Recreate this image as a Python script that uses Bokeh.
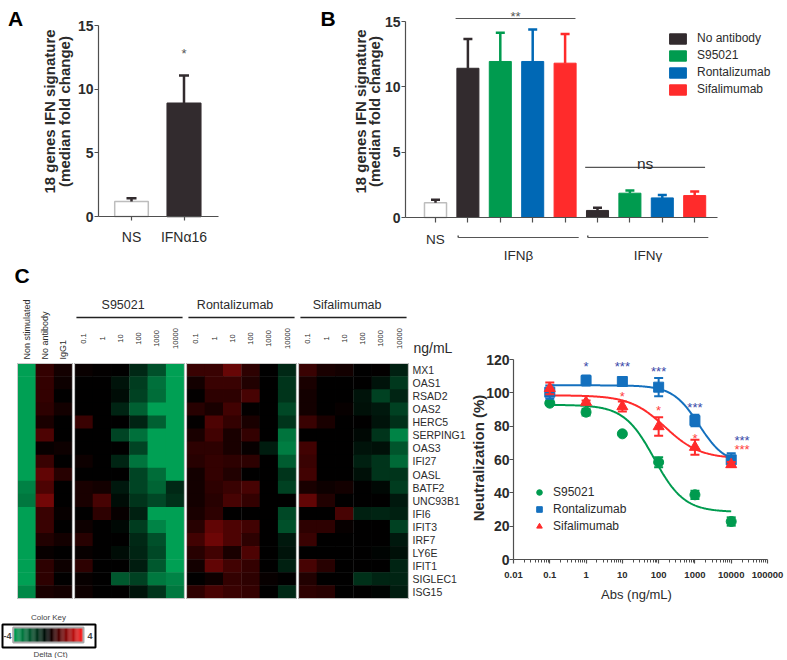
import numpy as np
from bokeh.plotting import figure
from bokeh.models import (Range1d, FixedTicker, Legend, LegendItem,
                          LinearColorMapper, CustomJSTickFormatter, ColumnDataSource)
from bokeh.layouts import row, column
from bokeh.embed import file_html
from bokeh.resources import INLINE
from bokeh.core.properties import value

# ------------------------------------------------------------------ data
a_categories = ["NS", "IFNα16"]
a_values = [1.18, 8.90]
a_err_top = [1.44, 11.08]
a_sig = ["", "*"]

b_ns_label = "NS"
b_ns_value = [1.12]
b_ns_err_top = [1.35]
treatments = ["No antibody", "S95021", "Rontalizumab", "Sifalimumab"]
ifnb_values = [11.42, 11.94, 11.94, 11.81]
ifnb_err_top = [13.67, 14.14, 14.38, 14.05]
ifng_values = [0.54, 1.86, 1.50, 1.68]
ifng_err_top = [0.74, 2.07, 1.73, 1.99]
b_groups = ["IFNβ", "IFNγ"]
b_group_sig = ["**", "ns"]
b_sig_line_y = [15.23, 3.83]

genes = ["MX1", "OAS1", "RSAD2", "OAS2", "HERC5", "SERPING1", "OAS3", "IFI27",
         "OASL", "BATF2", "UNC93B1", "IFI6", "IFIT3", "IRF7", "LY6E", "IFIT1",
         "SIGLEC1", "ISG15"]
control_columns = ["Non stimulated", "No antibody", "IgG1"]
antibodies = ["S95021", "Rontalizumab", "Sifalimumab"]
doses = ["0.1", "1", "10", "100", "1000", "10000"]

heat_controls = [
    [-4.0, 0.8, 0.3], [-4.0, 0.8, 0.2], [-4.0, 0.8, 0.0], [-4.0, 0.7, 0.3],
    [-4.0, 0.4, 0.0], [-4.0, 1.2, 0.0], [-4.0, 0.1, 0.2], [-4.0, 0.9, 0.0],
    [-4.0, 1.5, 0.6], [-3.2, 1.2, 0.0], [-3.0, 1.8, 0.0], [-4.0, 0.9, 0.1],
    [-4.0, 0.9, 0.0], [-4.0, 0.5, 0.3], [-4.0, 0.1, 0.0], [-4.0, 0.7, 0.2],
    [-4.0, 0.7, 0.0], [-3.4, 0.4, 0.3]]
heat_s95021 = [
    [0.15, 0.05, 0.0, -1.0, -2.0, -4.0], [0.0, 0.0, -0.5, -1.5, -2.8, -4.0],
    [0.0, 0.0, -0.3, -1.6, -2.7, -4.0], [0.0, 0.0, -0.9, -2.4, -4.0, -4.0],
    [0.9, 0.0, 0.0, -0.9, -2.4, -4.0], [0.0, 0.0, -1.7, -2.8, -4.0, -4.0],
    [0.0, 0.0, 0.0, -1.7, -4.0, -4.0], [0.2, 0.0, -0.9, -2.9, -4.0, -4.0],
    [0.0, 0.0, 0.0, -1.7, -2.7, -4.0], [0.4, 0.3, -0.6, -1.7, -2.5, -1.0],
    [0.4, 1.1, -0.3, -1.3, -1.8, -1.2], [0.0, 0.7, 0.1, -0.8, -4.0, -4.0],
    [0.2, 0.0, -0.2, -1.5, -3.3, -4.0], [0.6, 0.0, 0.0, -1.0, -2.0, -4.0],
    [0.1, 0.0, -0.3, -0.9, -1.8, -4.0], [0.7, 0.0, 0.0, -0.7, -2.2, -4.0],
    [0.1, 0.0, -2.2, -1.6, -3.0, -3.3], [0.2, 0.0, 0.0, -0.5, -1.3, -3.0]]
heat_rontalizumab = [
    [0.9, 0.9, 1.6, 0.7, 0.0, -1.0], [0.3, 0.9, 0.9, 0.5, 0.0, -1.3],
    [0.05, 0.7, 0.7, 1.1, 0.0, -1.3], [0.6, 0.4, 1.0, 0.05, 0.0, -1.8],
    [0.05, 1.2, 0.8, 0.4, 0.0, -1.3], [0.4, 1.0, 0.4, 0.8, 0.0, -2.9],
    [0.7, 0.7, 0.4, 0.1, -0.7, -3.1], [0.6, 0.8, 0.7, 0.7, 0.0, -2.3],
    [0.3, 0.8, 0.5, 0.0, 0.0, -1.3], [0.3, 0.7, 0.9, 1.1, 0.0, -1.6],
    [0.3, 0.6, 1.1, 0.8, 0.0, 0.0], [0.4, 0.7, 0.0, 0.0, 0.0, -1.8],
    [0.6, 1.5, 1.2, 1.0, 0.0, -2.0], [1.0, 1.7, 1.2, 0.7, 0.0, -0.6],
    [0.6, 1.0, 0.4, 1.2, 0.0, -0.5], [0.3, 1.5, 1.0, 0.8, 0.0, -0.8],
    [0.0, 0.2, 0.8, 0.7, 0.1, 0.0], [0.7, 1.1, 0.9, 0.8, 0.0, -1.0]]
heat_sifalimumab = [
    [0.9, 0.4, 0.3, 0.0, 0.05, -0.8], [0.4, 0.0, 0.0, 0.0, -0.5, -1.4],
    [0.3, 0.0, 0.0, -0.5, -1.6, -0.9], [0.3, 0.0, 0.1, -0.4, -0.6, -1.6],
    [0.9, 0.4, 0.0, 0.0, -0.5, -1.2], [0.0, 0.0, 0.0, -0.2, -1.3, -3.3],
    [1.0, 0.0, 0.0, -0.5, -0.4, -2.1], [0.9, 0.0, 0.0, -0.8, -1.3, -2.6],
    [1.0, 0.0, 0.0, -0.4, -1.3, -1.3], [0.4, 0.2, 0.3, 0.0, -0.2, -1.5],
    [1.5, 0.5, 0.0, 0.0, 0.0, -0.6], [0.0, 0.0, 1.1, -0.8, -0.9, -0.8],
    [0.7, 0.7, 0.1, 0.0, 0.0, -1.6], [0.9, 0.0, 0.0, 0.0, 0.0, -0.6],
    [0.0, 0.0, 0.0, 0.0, -0.1, -0.4], [1.1, 0.6, 0.0, 0.0, 0.0, -0.9],
    [0.5, 0.0, 0.0, -1.2, -0.9, -0.9], [0.7, 0.6, 0.0, 0.0, -0.1, -0.7]]

conc = [0.1, 1, 10, 100, 1000, 10000]
neut_s95021 = [93.8, 88.4, 75.4, 58.4, 38.8, 22.8]
err_s95021 = [1.0, 2.0, 0.0, 3.0, 2.5, 2.5]
neut_rontalizumab = [100.4, 107.4, 106.8, 103.4, 83.4, 59.8]
err_rontalizumab = [4.0, 3.0, 2.0, 5.5, 3.5, 4.0]
neut_sifalimumab = [102.7, 94.4, 91.8, 79.8, 67.4, 57.0]
err_sifalimumab = [3.5, 1.0, 3.0, 5.5, 4.5, 1.5]
# four-parameter logistic fits: top, bottom, EC50, Hill slope
fit_s95021 = (92.8, 28.5, 75.0, 1.05)
fit_rontalizumab = (104.5, 57.0, 1300.0, 1.2)
fit_sifalimumab = (98.5, 60.5, 150.0, 0.9)
star_x_blue = [1, 10, 100, 1000, 19800]
star_y_blue = [117.4, 117.4, 114.8, 93.0, 73.0]
star_t_blue = ["*", "***", "***", "***", "***"]
star_x_red = [10, 100, 1000, 19800]
star_y_red = [99.8, 91.0, 74.4, 68.0]
star_t_red = ["*", "*", "*", "***"]

# ------------------------------------------------------------------ style
SANS = "Liberation Sans"
TXT = "#2b2b2b"
AXC = "#4f4f4f"
DARK = "#322b2e"
GREEN = "#009b4f"
BLUE = "#0068b5"
RED = "#ff2b2b"
NS_LINE = "#bdbdbd"
BAR_COLORS = [DARK, GREEN, BLUE, RED]


def lin(p0, v0, p1, v1):
    """map a page pixel position to a data value (linear)"""
    return lambda p: v0 + (p - p0) * (v1 - v0) / (p1 - p0)


def new_fig(w, h, xr, yr, **kw):
    p = figure(width=w, height=h, x_range=xr, y_range=yr, output_backend="svg",
               toolbar_location=None, min_border_left=0, min_border_right=0,
               min_border_top=0, min_border_bottom=0, **kw)
    p.outline_line_color = None
    p.xgrid.visible = False
    p.ygrid.visible = False
    p.background_fill_color = "white"
    p.border_fill_color = "white"
    return p


def style_axis(ax, size, bold, tick_out=4):
    ax.axis_line_color = AXC
    ax.axis_line_width = 1.2
    ax.major_tick_line_color = AXC
    ax.major_tick_line_width = 1.2
    ax.major_tick_out = tick_out
    ax.major_tick_in = 0
    ax.minor_tick_line_color = None
    ax.major_label_text_font = SANS
    ax.major_label_text_font_size = f"{size}px"
    ax.major_label_text_font_style = "bold" if bold else "normal"
    ax.major_label_text_color = TXT


def txt(p, x, y, text, size, bold=False, color=TXT, angle=0.0, align="center",
        baseline="middle", y_offset=0):
    p.text(x=x, y=y, text=text, angle=angle, text_align=align, text_baseline=baseline,
           text_font=value(SANS), text_font_size=f"{size}px",
           text_font_style="bold" if bold else "normal", text_color=color, y_offset=y_offset)


def errbars(p, x, y0, y1, color, width=2.5, cap=10):
    p.segment(x0=x, y0=y0, x1=x, y1=y1, line_color=color, line_width=width)
    p.scatter(x=x, y=y1, marker="dash", size=cap, line_color=color, line_width=width)


ROW1_H = 262
ROW2_Y, ROW2_H = 262, 396

# ------------------------------------------------------------------ panel A
ax_ = lin(131, 0, 183.5, 1)
ay_ = lin(216, 0, 25, 15)
pA = new_fig(300, ROW1_H, Range1d(ax_(0), ax_(300)), Range1d(ay_(ROW1_H), ay_(0)))
xa = list(range(len(a_categories)))
pA.vbar(x=xa, top=a_values, width=0.64, bottom=0, fill_color=["white", DARK],
        line_color=[NS_LINE, DARK], line_width=1.5)
errbars(pA, xa, a_values, a_err_top, DARK)
txt(pA, xa, a_err_top, a_sig, 13, color="#555555", baseline="alphabetic", y_offset=-22)
pA.xaxis.fixed_location = 0
pA.xaxis.bounds = (ax_(98), ax_(218))
pA.xaxis.ticker = FixedTicker(ticks=xa)
pA.xaxis.major_label_overrides = {i: c for i, c in enumerate(a_categories)}
style_axis(pA.xaxis, 14, False)
pA.xaxis.major_label_standoff = 8
pA.yaxis.fixed_location = ax_(98)
pA.yaxis.bounds = (0, 15)
pA.yaxis.ticker = FixedTicker(ticks=[0, 5, 10, 15])
style_axis(pA.yaxis, 14, True)
pA.yaxis.major_label_standoff = 1
txt(pA, [ax_(15)], [ay_(18)], ["A"], 21, bold=True, color="black")
txt(pA, [ax_(49), ax_(63.5)], [ay_(111)] * 2, ["18 genes IFN signature", "(median fold change)"],
    15, bold=True, angle=np.pi / 2)

# ------------------------------------------------------------------ panel B
B_X0, B_W = 300, 485
bx_ = lin(435, 0, 467.4, 1)
by_ = lin(217, 0, 21, 15)
pB = new_fig(B_W, ROW1_H, Range1d(bx_(B_X0), bx_(B_X0 + B_W)), Range1d(by_(ROW1_H), by_(0)))
xb = [1 + i for i in range(len(treatments))]
xg = [1 + len(treatments) + i for i in range(len(treatments))]
pB.vbar(x=[0], top=b_ns_value, width=0.68, fill_color="white", line_color=NS_LINE, line_width=1.5)
errbars(pB, [0], b_ns_value, b_ns_err_top, DARK, cap=9)
bar_renderers = []
for i, t in enumerate(treatments):
    r = pB.vbar(x=[xb[i], xg[i]], top=[ifnb_values[i], ifng_values[i]], width=0.68,
                fill_color=BAR_COLORS[i], line_color=BAR_COLORS[i], line_width=1)
    bar_renderers.append(r)
    errbars(pB, [xb[i], xg[i]], [ifnb_values[i], ifng_values[i]],
            [ifnb_err_top[i], ifng_err_top[i]], BAR_COLORS[i], cap=9)

groups_x = [xb, xg]
sig_x0 = [min(g) - 0.38 for g in groups_x]
sig_x1 = [max(g) + 0.32 for g in groups_x]
pB.segment(x0=sig_x0, y0=b_sig_line_y, x1=sig_x1, y1=b_sig_line_y, line_color="#555555", line_width=1.2)
sig_cx = [(a + b) / 2 for a, b in zip(sig_x0, sig_x1)]
txt(pB, [sig_cx[0]], [b_sig_line_y[0]], [b_group_sig[0]], 13, color="#555555",
    baseline="alphabetic", y_offset=-2)
txt(pB, [sig_cx[1]], [b_sig_line_y[1]], [b_group_sig[1]], 15.5, baseline="alphabetic", y_offset=-4)

br_y = -1.53
br_x0 = [min(g) - 0.3 for g in groups_x]
br_x1 = [max(g) + 0.42 for g in groups_x]
pB.segment(x0=br_x0, y0=[br_y] * 2, x1=br_x1, y1=[br_y] * 2, line_color="#555555", line_width=1.2)
pB.segment(x0=br_x0, y0=[br_y] * 2, x1=br_x0, y1=[br_y + 0.15] * 2, line_color="#555555", line_width=1.5)
txt(pB, [(a + b) / 2 for a, b in zip(br_x0, br_x1)], [-2.91] * 2, b_groups, 13.5)

pB.xaxis.fixed_location = 0
pB.xaxis.bounds = (bx_(405), bx_(717))
pB.xaxis.ticker = FixedTicker(ticks=[0] + xb + xg)
pB.xaxis.major_label_overrides = {0: b_ns_label, **{k: "" for k in xb + xg}}
style_axis(pB.xaxis, 13.5, False, tick_out=5)
pB.xaxis.major_label_standoff = 9
pB.yaxis.fixed_location = bx_(405)
pB.yaxis.bounds = (0, 15)
pB.yaxis.ticker = FixedTicker(ticks=[0, 5, 10, 15])
style_axis(pB.yaxis, 14, True)
pB.yaxis.major_label_standoff = 1
txt(pB, [bx_(327.5)], [by_(18)], ["B"], 21, bold=True, color="black")
txt(pB, [bx_(360), bx_(373.5)], [by_(111)] * 2, ["18 genes IFN signature", "(median fold change)"],
    15, bold=True, angle=np.pi / 2)

legB = Legend(items=[LegendItem(label=t, renderers=[r]) for t, r in zip(treatments, bar_renderers)],
              location=(667 - B_X0, ROW1_H - 96), orientation="vertical", glyph_width=21,
              glyph_height=13, spacing=3, label_standoff=9, padding=0, margin=0,
              border_line_color=None, background_fill_alpha=0, label_text_font=SANS,
              label_text_font_size="12px", label_height=13, label_text_color=TXT)
pB.add_layout(legB)

# ------------------------------------------------------------------ panel C (heatmap)
HW = 468
hx = lin(17, 0, 35.3, 1)
hy = lin(363, 0, 376.06, 1)


def hpal(n=256):
    out = []
    for i in range(n):
        v = -1 + 2 * i / (n - 1)
        if v < 0:
            t = -v
            r, g, b = 0, 160 * t, 84 * t
        else:
            t = v
            r, g, b = 255 * t, 34 * t * t, 34 * t * t
        out.append("#%02x%02x%02x" % (round(r), round(g), round(b)))
    return out


mapper = LinearColorMapper(palette=hpal(), low=-4, high=4)

pC = new_fig(HW, ROW2_H, Range1d(hx(0), hx(HW)), Range1d(hy(ROW2_Y + ROW2_H), hy(ROW2_Y)),
             x_axis_location=None, y_axis_location=None)

GAP = 0.12
blocks = [heat_controls, heat_s95021, heat_rontalizumab, heat_sifalimumab]
starts = []
s = 0.0
for b in blocks:
    starts.append(s)
    s += len(b[0]) + GAP
cx, cy, cv = [], [], []
for b, st in zip(blocks, starts):
    for r_i, rowvals in enumerate(b):
        for c_i, v in enumerate(rowvals):
            cx.append(st + c_i + 0.5)
            cy.append(r_i + 0.5)
            cv.append(v)
pC.rect(x="x", y="y", width=1.02, height=1.04, source=ColumnDataSource(dict(x=cx, y=cy, v=cv)),
        fill_color={"field": "v", "transform": mapper}, line_color=None)
nrows = len(genes)
pC.rect(x=[st + len(b[0]) / 2 for b, st in zip(blocks, starts)], y=[nrows / 2] * 4,
        width=[len(b[0]) for b in blocks], height=[nrows] * 4, fill_color=None,
        line_color="#c9c9c9", line_width=1)

txt(pC, [hx(412)] * nrows, [i + 0.5 for i in range(nrows)], genes, 10.5, align="left")
txt(pC, [j + 0.5 for j in range(len(control_columns))], [hy(359)] * 3, control_columns, 9,
    angle=np.pi / 2, align="left")
dose_x, dose_t = [], []
for st in starts[1:]:
    for d_i, d in enumerate(doses):
        dose_x.append(st + d_i + 0.5)
        dose_t.append(d)
txt(pC, dose_x, [hy(338)] * len(dose_x), dose_t, 7.5, angle=np.pi / 2)
ab_starts = starts[1:]
pC.segment(x0=[st + 0.1 for st in ab_starts], y0=[hy(317)] * 3,
           x1=[st + len(doses) - 0.1 for st in ab_starts], y1=[hy(317)] * 3,
           line_color="#222222", line_width=1.5)
txt(pC, [st + len(doses) / 2 - 0.35 for st in ab_starts], [hy(304)] * 3, antibodies, 12.5)
txt(pC, [hx(413)], [hy(347)], ["ng/mL"], 14, align="left")
txt(pC, [hx(21.5)], [hy(263)], ["C"], 21, bold=True, color="black", baseline="top")

# colour key
ramp = np.linspace(-4, 4, 80)
k0, k1 = hx(12.7), hx(83)
edges = np.linspace(k0, k1, len(ramp) + 1)
ramp_src = ColumnDataSource(dict(v=ramp, left=edges[:-1], right=edges[1:] + 0.01,
                                 top=[hy(627)] * len(ramp), bottom=[hy(642)] * len(ramp)))
pC.quad(left="left", right="right", top="top", bottom="bottom",
        fill_color={"field": "v", "transform": mapper}, line_color=None, source=ramp_src)
pC.quad(left=[k0], right=[k1], top=[hy(627)], bottom=[hy(642)], fill_color=None,
        line_color="#a9a9a9", line_width=2)
pC.quad(left=[hx(2)], right=[hx(95)], top=[hy(624)], bottom=[hy(647)], fill_color=None,
        line_color="black", line_width=2)
txt(pC, [hx(7), hx(89.5)], [hy(635)] * 2, ["-4", "4"], 9, bold=True, color="#444444")
txt(pC, [hx(48), hx(50)], [hy(617), hy(653.5)], ["Color Key", "Delta (Ct)"], 8, color="#444444")

# ------------------------------------------------------------------ panel C (curves)
D_X0, D_W = 468, 317
dx_ = lambda p: 10 ** (-2 + (p - 513) / 36.286)
dy_ = lin(559, 0, 359, 120)
pD = new_fig(D_W, ROW2_H, Range1d(dx_(D_X0), dx_(D_X0 + D_W)),
             Range1d(dy_(ROW2_Y + ROW2_H), dy_(ROW2_Y)), x_axis_type="log")


def four_pl(x, top, bottom, ec50, hill):
    return bottom + (top - bottom) / (1 + (x / ec50) ** hill)


xs = np.logspace(np.log10(conc[0]), np.log10(conc[-1]), 240)
series = [
    ("S95021", neut_s95021, err_s95021, fit_s95021, GREEN, "circle", 10),
    ("Rontalizumab", neut_rontalizumab, err_rontalizumab, fit_rontalizumab, "#1470be", "square", 10),
    ("Sifalimumab", neut_sifalimumab, err_sifalimumab, fit_sifalimumab, RED, "triangle", 11),
]
for name, vals, errs, fit, col, mk, sz in series:
    pD.line(xs, four_pl(xs, *fit), line_color=col, line_width=2)
marker_renderers = []
for name, vals, errs, fit, col, mk, sz in series:
    v = np.array(vals)
    e = np.array(errs)
    pD.segment(x0=conc, y0=v - e, x1=conc, y1=v + e, line_color=col, line_width=2)
    pD.scatter(x=conc + conc, y=list(v - e) + list(v + e), marker="dash", size=9,
               line_color=col, line_width=2)
    marker_renderers.append(pD.scatter(x=conc, y=vals, marker=mk, size=sz, fill_color=col,
                                       line_color=col))
txt(pD, star_x_blue, star_y_blue, star_t_blue, 13, color="#3a48a8", y_offset=3)
txt(pD, star_x_red, star_y_red, star_t_red, 13, color="#ff4040", y_offset=3)

pD.xaxis.fixed_location = 0
pD.xaxis.bounds = (0.01, 1e5)
pD.xaxis.ticker = FixedTicker(ticks=[10.0 ** k for k in range(-2, 6)],
                              minor_ticks=[m * 10.0 ** k for k in range(-2, 5) for m in range(2, 10)])
pD.xaxis.formatter = CustomJSTickFormatter(code="return tick.toString();")
style_axis(pD.xaxis, 9.5, True)
pD.xaxis.minor_tick_line_color = AXC
pD.xaxis.minor_tick_out = 3
pD.xaxis.minor_tick_in = 0
pD.xaxis.major_label_standoff = 8
pD.yaxis.fixed_location = 0.01
pD.yaxis.bounds = (0, 120)
pD.yaxis.ticker = FixedTicker(ticks=[0, 20, 40, 60, 80, 100, 120])
style_axis(pD.yaxis, 14, True)
pD.yaxis.major_label_standoff = 0
txt(pD, [dx_(477.5)], [dy_(457.5)], ["Neutralization (%)"], 15, bold=True, angle=np.pi / 2)
txt(pD, [dx_(636)], [dy_(593.5)], ["Abs (ng/mL)"], 13)

legD = Legend(items=[LegendItem(label=s_[0], renderers=[r]) for s_, r in zip(series, marker_renderers)],
              location=(532 - D_X0, ROW2_Y + ROW2_H - 533), orientation="vertical",
              glyph_width=14, glyph_height=14, spacing=3, label_standoff=7, padding=0, margin=0,
              border_line_color=None, background_fill_alpha=0, label_text_font=SANS,
              label_text_font_size="12px", label_height=14, label_text_color=TXT)
pD.add_layout(legD)

layout = column(row(pA, pB), row(pC, pD))
open("out.html", "w").write(file_html(layout, INLINE, title="IFN signature"))
